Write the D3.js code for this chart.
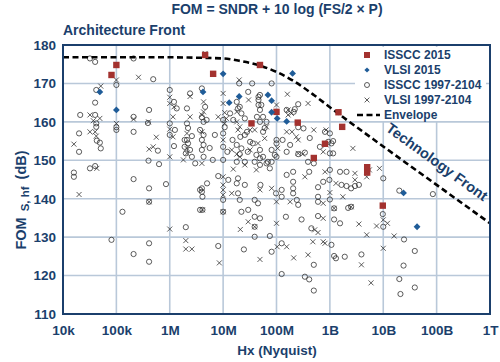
<!DOCTYPE html>
<html><head><meta charset="utf-8">
<script src="https://cdn.jsdelivr.net/npm/d3@7/dist/d3.min.js"></script>
<style>
html,body{margin:0;padding:0;background:#fff;}
svg{display:block;font-family:"Liberation Sans",Arial,Helvetica,sans-serif;}
</style></head>
<body><svg id="c" width="500" height="362"></svg>
<script>
const xTicks = [1e4,1e5,1e6,1e7,1e8,1e9,1e10,1e11,1e12];
const xTickLabels = ["10k","100k","1M","10M","100M","1B","10B","100B","1T"];
const yTicks = [110,120,130,140,150,160,170,180];

// [Hz (Nyquist), FOM dB]
const isscc2015 = [[1e5,174.8],[8.1e4,172.2],[4.6e6,177.4],[6.5e6,172.5],[4.9e7,174.8],[1e8,162.6],[3.4e7,159.6],[2.5e8,159.8],[5e8,150.6],[8.1e8,154.3],[1.45e9,162.5],[1.7e9,158.7],[5e9,148.2],[5e9,146.8],[9.8e9,138.2]];
const vlsi2015 = [[4.9e4,167.8],[1e5,163.1],[1e7,172.5],[4.2e6,167.8],[1.3e7,165.0],[2e7,166.6],[6.9e7,167.0],[8.1e7,165.5],[8.1e7,162.5],[1.03e8,160.9],[1.55e8,160.1],[2e8,172.6],[2.4e10,141.5],[4.3e10,132.7]];
const issccOld = [
[3.2e4,176.5],[4e4,175.6],[2.1e5,176.5],[1e5,169.6],[4.9e5,171.1],[4.2e4,168.3],[4e4,165.0],[2.1e4,161.8],[4e4,161.8],[4.2e4,159.6],[4.2e4,158.7],[1e5,158.6],[1e5,157.9],[2.1e5,161.3],[2.1e5,157.4],[4.1e5,163.1],[3.9e5,159.7],[1e6,168.3],[1.2e6,165.2],[2.1e6,163.5],[2.4e6,167.4],[1e6,159.6],[2.1e6,159.6],[2.2e6,158.4],[2e4,157.0],[4.3e4,155.1],[4.9e4,154.6],[5.1e4,153.1],[2e4,152.2],[6e5,152.5],[4e5,149.9],[6.3e5,149.0],[1.2e6,153.7],[2.1e6,155.3],[1.9e6,153.5],[2.4e6,152.7],[4e4,148.5],[3.2e4,147.9],[1.6e4,146.8],[1.6e4,145.7],[1e6,156.6],[2.1e5,145.1],[4.1e5,142.7],[8.5e5,143.8],[4.1e5,139.2],[1.3e5,136.6],[2e6,132.6],[8.1e4,129.3],[4.1e5,128.4],[2.1e5,125.6],[4.1e5,123.6],[2.6e6,150.9],[3.7e6,142.3],[3.7e6,137.1],
[4e6,168.7],[4.6e6,163.9],[4e6,161.2],[4.3e6,160.0],[4.9e6,160.5],[1e7,160.5],[1.07e7,158.6],[1e7,157.0],[1.35e7,162.2],[2e7,170.0],[3.5e7,170.0],[2.95e7,167.8],[4.9e7,167.0],[4.6e7,165.7],[8.1e7,170.0],[5.2e7,164.4],[4.9e7,163.1],[2.05e7,163.9],[1.8e7,165.2],[1.9e7,163.5],[2.2e7,162.2],[1.55e7,160.5],[2.55e7,160.9],[5.6e7,161.3],[6.5e7,160.0],[2.1e7,156.1],[2.8e7,157.4],[2.2e8,163.3],[2.55e8,158.6],[3.2e8,158.3],[1.55e8,163.1],[2.55e8,164.6],[2.1e8,162.6],[4.6e7,166.5],[4.6e7,164.4],[4.3e7,161.3],[4.9e7,160.0],[5.6e7,157.4],[1e8,155.3],[1e8,154.4],[9.3e7,151.4],[8.1e7,152.7],[5.6e7,150.9],[6.9e7,149.6],[4.9e7,152.7],[1.55e8,152.2],[3.4e8,152.0],[8.1e8,157.4],[9.3e8,154.8],[1.07e9,154.4],[1e9,151.8],[3.9e8,149.6],[5e8,149.2],
[1.35e6,163.5],[1.25e6,157.9],[1.9e6,155.3],[2.2e6,154.4],[2e6,151.8],[4.3e6,156.6],[4e6,155.3],[4.3e6,154.0],[4e6,152.7],[4.3e6,150.9],[1e7,153.5],[1e7,150.1],[1.8e7,154.0],[2.2e7,153.1],[1.8e7,149.6],[2.55e7,149.6],[3.6e7,154.4],[3e6,149.2],[2.05e7,151.6],[2.9e7,152.2],[4.9e7,150.5],[1e8,150.9],[3.9e7,149.6],[4.9e7,148.8],[6.5e7,149.2],[8.1e7,149.6],[7.5e7,147.9],[2.55e8,151.6],[1.15e9,151.8],
[8.1e6,145.9],[1.25e7,144.9],[1.9e7,145.3],[1.8e7,144.0],[2.55e7,143.6],[5e6,144.0],[4e6,142.7],[4e6,141.8],[4.1e6,140.5],[1e7,139.7],[1.9e7,141.4],[2.05e7,139.7],[5e7,143.6],[9.8e7,141.4],[1.25e8,142.3],[1.25e8,140.5],[3.9e7,139.7],[4.5e7,138.8],[1.55e8,146.2],[2.05e8,147.0],[2.05e8,144.4],[2.05e8,142.7],[2.05e8,141.4],[2.4e8,139.7],[2.55e8,138.4],[4.1e8,147.0],[1e9,147.5],[6e8,143.0],[7.5e8,144.4],[9.8e8,144.9],[6e8,140.5],[6e8,139.2],[1e9,139.8],[4.1e6,137.1],[1e7,136.6],[2.2e7,136.6],[2.95e7,137.1],[3.9e7,135.3],[4.9e7,134.9],[3.9e7,132.7],[3.9e7,130.1],[7.5e7,130.3],[1.5e8,135.3],[2.95e8,134.6],[6e8,135.5],[1.2e9,134.6],[4.5e8,132.3],[1.07e9,128.0],[8.1e6,127.7],[2.45e7,126.8],[1.25e8,128.4],[8.1e7,126.2],[5e8,122.8],[1.2e9,125.1],[1.3e9,124.5],[1.25e8,120.4],[3.4e8,119.7],[4.1e8,119.0],[5e8,116.1],
[1e9,157.0],[1.15e9,155.0],[1.55e9,147.0],[2.05e9,147.0],[1e10,145.3],[1.65e9,143.6],[2.05e9,143.3],[2.5e9,142.7],[2.95e9,143.3],[3.5e9,143.6],[2e10,142.1],[8.5e10,141.2],[2.2e9,137.6],[1.2e9,137.5],[2.5e9,137.9],[9.8e9,136.0],[1.55e9,133.6],[1e10,132.7],[2.45e10,129.4],[3.9e10,126.4],[1.9e9,124.9],[3.9e9,125.5],[2.4e10,122.6],[2e10,119.1],[3.9e10,116.9],[2.1e10,115.2],
[2.6e6,156.3],[3.7e6,157.9],[7e6,156.6],[1.5e7,155.3],[2.55e7,156.6],[3.2e7,154.8],[6e7,158.4],[1.3e8,155.3],[1.8e8,154.0],[4.2e8,155.8],[6.5e8,153.5],[1.2e7,152.2],[5.6e6,153.2],[6.4e6,150.1],[4.2e7,151.4]
];
const vlsiOld = [
[1e5,170.9],[5.1e4,169.3],[2.6e5,171.6],[3.2e4,161.8],[4.9e4,160.9],[3.7e4,160.3],[1e5,159.6],[2.1e5,160.7],[4e5,160.0],[3.2e4,157.4],[4e4,157.4],[4.2e4,156.3],[1.6e4,154.2],[5.6e5,156.0],[4.9e5,153.5],[4.1e5,152.9],[1e6,166.4],[1e6,164.8],[1e6,158.1],[1e6,150.9],[1.2e6,163.9],[4.3e4,147.9],[2e4,141.1],[1e6,132.1],[2e6,129.1],[2e6,126.9],[2.6e6,126.9],[2.1e6,151.8],
[4.6e6,177.8],[2.4e6,166.6],[4.3e6,165.2],[4.3e6,162.6],[2.4e6,161.3],[1e7,167.4],[1e7,164.8],[1.07e7,162.4],[8.1e6,161.3],[2e7,170.9],[3e7,165.7],[1.8e7,162.6],[1.8e7,160.0],[1.6e8,167.2],[1.65e8,163.1],[1.9e8,162.2],[3.9e8,164.8],[5e8,157.9],[8.5e8,157.9],[6.5e7,158.7],[2.05e7,158.7],[3.9e7,157.9],[1e8,164.4],[1.65e8,161.8],[1.55e8,157.4],[1.95e8,157.4],[2.35e8,156.1],[2.55e8,155.3],[6e7,155.7],[4.5e7,154.4],[1.05e8,153.1],[2.55e8,151.8],[8.5e8,154.0],[7.5e8,152.2],
[1.15e6,161.3],[1.15e6,156.1],[2.1e6,157.0],[2.1e6,153.1],[1.8e6,150.1],[4e6,161.8],[1.15e7,160.9],[1.07e7,159.6],[1.9e7,157.9],[3.2e7,157.9],[4e6,157.4],[4e6,149.2],[1e7,155.3],[1.45e7,152.7],[2.05e7,150.9],[3.2e7,152.7],[1.8e7,151.6],[3.1e8,151.6],[2.55e7,148.8],[1.55e7,147.7],[4.2e7,147.5],
[1e7,145.7],[1e7,143.6],[1e7,142.3],[1e7,141.0],[1.45e7,141.4],[4.9e7,142.3],[8.1e7,142.7],[1e8,139.2],[1.8e8,139.2],[3.4e8,145.7],[8.1e8,147.0],[1e9,141.6],[7.5e8,138.8],[2.95e7,134.0],[2.1e7,132.0],[1e8,133.6],[7.5e8,134.9],[5.2e8,131.9],[6e8,131.2],[4.8e8,128.8],[8.1e8,128.4],[1.03e8,127.5],[1.55e8,127.5],[4.9e7,124.2],[8.5e6,123.3],[2.1e8,124.6],[3.9e8,125.4],
[2.7e9,153.1],[5.5e9,147.5],[8.5e9,147.9],[4.9e9,145.7],[2.95e9,146.6],[2.95e9,144.9],[1.3e9,144.0],[1.75e9,140.5],[3.5e9,133.4],[7.5e9,132.9],[1e10,134.5],[1.2e10,133.6],[4.9e9,130.6],[1.6e10,130.3],[1e10,127.1],[3.9e9,122.8],[5.9e9,118.1],
[4.1e5,139.2],[4.1e6,137.1],[1e7,136.6],[3.9e7,132.7],[1.2e9,137.5],[2.5e9,137.9],[7.5e8,128.8]
];
const envelope = [[1e4,176.8],[1e6,176.8],[3e6,176.7],[1e7,176.5],[2e7,175.9],[5e7,174.6],[1e8,173.0],[2e8,170.8],[5e8,167.0],[1e9,163.8],[1e10,153.6],[1e11,143.6],[1e12,133.6]];
const legendLabels = ["ISSCC 2015","VLSI 2015","ISSCC 1997-2104","VLSI 1997-2104","Envelope"];

const navy = "#1b3f6c", red = "#a3322f", blue = "#1f5c98", ink = "#333";
const L = 63, R = 490, T = 45, B = 314;
const svg = d3.select("#c");
const x = d3.scaleLog().domain([1e4,1e12]).range([L,R]);
const y = d3.scaleLinear().domain([110,180]).range([B,T]);

// grid
svg.append("g").selectAll("line").data(xTicks.slice(1,-1)).join("line")
  .attr("x1",d=>x(d)).attr("x2",d=>x(d)).attr("y1",T).attr("y2",B)
  .attr("stroke","#b9c8d9").attr("stroke-width",1.6);
svg.append("g").selectAll("line").data(yTicks.slice(1,-1)).join("line")
  .attr("y1",d=>y(d)).attr("y2",d=>y(d)).attr("x1",L).attr("x2",R)
  .attr("stroke","#b9c8d9").attr("stroke-width",1.6);

// legend background
svg.append("rect").attr("x",355).attr("y",47).attr("width",131).attr("height",74).attr("fill","#fff");

// axes labels
const ax = svg.append("g").attr("transform",`translate(0,${B})`)
  .call(d3.axisBottom(x).tickValues(xTicks).tickFormat((d,i)=>xTickLabels[i]).tickSize(0).tickPadding(11));
const ay = svg.append("g").attr("transform",`translate(${L},0)`)
  .call(d3.axisLeft(y).tickValues(yTicks).tickFormat(d3.format("d")).tickSize(0).tickPadding(7));
[ax,ay].forEach(g=>{g.select(".domain").remove();
  g.selectAll("text").attr("fill",navy).attr("font-size",13.5).attr("font-weight","bold").attr("font-family","Liberation Sans, Arial, sans-serif");});

// points: old ISSCC circles
svg.append("g").selectAll("circle").data(issccOld).join("circle")
  .attr("cx",d=>x(d[0])).attr("cy",d=>y(d[1])).attr("r",2.6)
  .attr("fill","none").attr("stroke",ink).attr("stroke-width",0.8);
// old VLSI crosses
const cr = 2.5;
svg.append("g").selectAll("path").data(vlsiOld).join("path")
  .attr("d",d=>{const cx=x(d[0]),cy=y(d[1]);return `M${cx-cr},${cy-cr}L${cx+cr},${cy+cr}M${cx-cr},${cy+cr}L${cx+cr},${cy-cr}`;})
  .attr("fill","none").attr("stroke",ink).attr("stroke-width",0.8);

// envelope
const line = d3.line().x(d=>x(d[0])).y(d=>y(d[1])).curve(d3.curveMonotoneX);
svg.append("path").datum(envelope).attr("d",line).attr("fill","none")
  .attr("stroke","#000").attr("stroke-width",2.6).attr("stroke-dasharray","6,3.5");

// 2015 marks
const sq = 6.4;
svg.append("g").selectAll("rect").data(isscc2015).join("rect")
  .attr("x",d=>x(d[0])-sq/2).attr("y",d=>y(d[1])-sq/2).attr("width",sq).attr("height",sq).attr("fill",red);
const dm = 3.4;
svg.append("g").selectAll("path").data(vlsi2015).join("path")
  .attr("d",d=>{const cx=x(d[0]),cy=y(d[1]);return `M${cx},${cy-dm}L${cx+dm},${cy}L${cx},${cy+dm}L${cx-dm},${cy}Z`;})
  .attr("fill",blue);

// frame
svg.append("rect").attr("x",L).attr("y",T).attr("width",R-L).attr("height",B-T)
  .attr("fill","none").attr("stroke",navy).attr("stroke-width",2);

// legend
const lg = svg.append("g");
const ly = [55,70,85,100,115];
lg.append("rect").attr("x",367-3).attr("y",ly[0]-3).attr("width",6).attr("height",6).attr("fill",red);
lg.append("path").attr("d",`M367,${ly[1]-2.6}L369.6,${ly[1]}L367,${ly[1]+2.6}L364.4,${ly[1]}Z`).attr("fill",blue);
lg.append("circle").attr("cx",367).attr("cy",ly[2]).attr("r",2.5).attr("fill","none").attr("stroke",ink).attr("stroke-width",0.8);
lg.append("path").attr("d",`M364.6,${ly[3]-2.4}L369.4,${ly[3]+2.4}M364.6,${ly[3]+2.4}L369.4,${ly[3]-2.4}`).attr("stroke",ink).attr("stroke-width",0.8);
lg.append("line").attr("x1",357).attr("x2",380).attr("y1",ly[4]).attr("y2",ly[4]).attr("stroke","#000").attr("stroke-width",2.6).attr("stroke-dasharray","6,3.5");
lg.selectAll("text").data(legendLabels).join("text")
  .attr("x",384).attr("y",(d,i)=>ly[i]+4.3).text(d=>d)
  .attr("fill",navy).attr("font-size",12).attr("font-weight","bold");

// titles
svg.append("text").attr("x",277).attr("y",13.5).attr("text-anchor","middle")
  .attr("fill",navy).attr("font-size",14).attr("font-weight","bold").text("FOM = SNDR + 10 log (FS/2 × P)");
svg.append("text").attr("x",63).attr("y",35).attr("fill",navy).attr("font-size",14).attr("font-weight","bold").text("Architecture Front");
svg.append("text").attr("x",277).attr("y",355).attr("text-anchor","middle")
  .attr("fill",navy).attr("font-size",13.5).attr("font-weight","bold").text("Hx (Nyquist)");
const yl = svg.append("text").attr("transform","translate(26,200) rotate(-90)").attr("text-anchor","middle")
  .attr("fill",navy).attr("font-weight","bold").attr("font-size",14.5);
yl.append("tspan").text("FOM");
yl.append("tspan").attr("font-size",11.5).attr("dx",6).attr("dy",3).text("S, hf");
yl.append("tspan").attr("dx",7).attr("dy",-3).text("(dB)");

svg.append("text").attr("transform","translate(434,166) rotate(36)").attr("text-anchor","middle")
  .attr("fill",navy).attr("font-size",14.5).attr("font-weight","bold").text("Technology Front");
</script></body></html>
